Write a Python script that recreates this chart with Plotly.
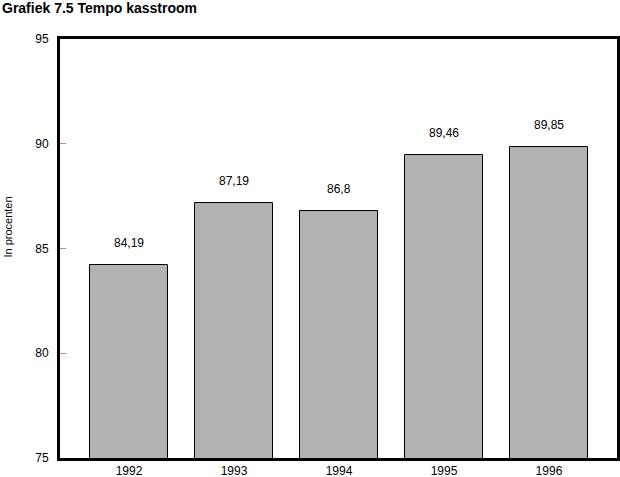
import plotly.graph_objects as go

years = [1992, 1993, 1994, 1995, 1996]
tempo = [84.19, 87.19, 86.8, 89.46, 89.85]
y_ticks = [75, 80, 85, 90, 95]

labels = [str(v).replace(".", ",") for v in tempo]

fig = go.Figure()
fig.add_trace(go.Bar(
    x=years, y=tempo, width=0.743,
    marker=dict(color="#b2b2b2", line=dict(color="black", width=1)),
    hoverinfo="skip",
))

# value labels above the bars
for x, y, t in zip(years, tempo, labels):
    fig.add_annotation(x=x, y=y, text=t, showarrow=False,
                       yanchor="bottom", yshift=13,
                       font=dict(size=12, color="black"))

fig.update_layout(
    width=620, height=477,
    margin=dict(l=60, r=3, t=39, b=19, autoexpand=False),
    paper_bgcolor="white", plot_bgcolor="white",
    font=dict(family="Liberation Sans, Arial, sans-serif", size=12, color="black"),
    showlegend=False,
    bargap=0,
)
fig.update_xaxes(range=[1991.343, 1996.648], tickvals=years,
                 ticktext=[str(y) for y in years], automargin=False,
                 showline=True, linewidth=3, linecolor="black", mirror=True,
                 showgrid=False, ticks="", zeroline=False, ticklabelstandoff=0)
fig.update_yaxes(range=[75, 95], tickvals=y_ticks, automargin=False,
                 showline=True, linewidth=3, linecolor="black", mirror=True,
                 showgrid=False, ticks="inside", ticklen=6, tickcolor="#999999",
                 tickwidth=1, zeroline=False, ticklabelstandoff=6)

fig.add_annotation(text="<b>Grafiek 7.5 Tempo kasstroom</b>", xref="paper", yref="paper",
                   x=0, xanchor="left", xshift=-60, y=1, yanchor="bottom", yshift=21,
                   showarrow=False, font=dict(size=14))
fig.add_annotation(text="In procenten", xref="paper", yref="paper",
                   x=0, xanchor="center", xshift=-52, y=0.55, textangle=-90,
                   showarrow=False, font=dict(size=11))

# drop the default page margin so the figure sits at the window corner
fig.write_html("out.html", config={"displayModeBar": False},
               post_script="document.body.style.margin='0';")
